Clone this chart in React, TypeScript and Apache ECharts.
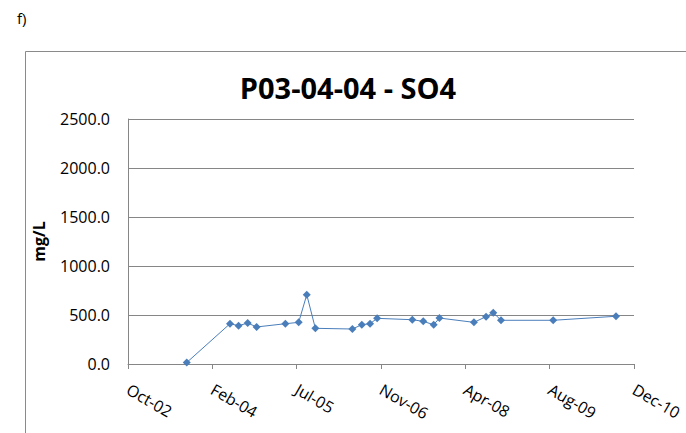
import React, { useEffect, useRef } from "react";
import * as echarts from "echarts";

const sampleDates = [
  "2003-09-20", "2004-06-03", "2004-07-24", "2004-09-16", "2004-11-08",
  "2005-04-28", "2005-07-16", "2005-09-02", "2005-10-23", "2006-05-31",
  "2006-07-26", "2006-09-13", "2006-10-25", "2007-05-22", "2007-07-26",
  "2007-09-26", "2007-10-30", "2008-05-22", "2008-08-02", "2008-09-14",
  "2008-10-30", "2009-09-05", "2010-09-13",
];
const so4Values = [
  15, 411, 391, 418, 378, 411, 425, 707, 364, 357, 401, 411, 466, 452, 435,
  401, 469, 425, 483, 524, 446, 446, 487,
];
const xTickLabels = ["Oct-02", "Feb-04", "Jul-05", "Nov-06", "Apr-08", "Aug-09", "Dec-10"];
const axisStartDate = "2002-10-06";
const tickStepDays = 501;
const yTicks = [0, 500, 1000, 1500, 2000, 2500];

const DAY = 86400000;
const toDays = (d: string) => Math.round((Date.parse(d) - Date.parse(axisStartDate)) / DAY);

const FONT = "'Open Sans', 'Noto Sans', sans-serif";

export default function App() {
  const ref = useRef<HTMLDivElement>(null);
  useEffect(() => {
    if (!ref.current) return;
    const chart = echarts.init(ref.current, null, { renderer: "svg" });
    const data = sampleDates.map((d, i) => [toDays(d), so4Values[i]]);
    const xMax = tickStepDays * (xTickLabels.length - 1);
    chart.setOption({
      animation: false,
      backgroundColor: "#ffffff",
      textStyle: { fontFamily: FONT },
      grid: {
        left: 128,
        right: 52,
        top: 119,
        bottom: 69,
        containLabel: false,
        outerBoundsMode: "none",
      },
      graphic: [
        {
          type: "rect",
          shape: { x: 25.5, y: 51.5, width: 720, height: 420 },
          style: { fill: "none", stroke: "#8a8a8a", lineWidth: 1 },
          silent: true,
        },
        {
          type: "text",
          x: 17,
          y: 18,
          style: {
            text: "f)",
            font: `15px ${FONT}`,
            fill: "#000",
            textVerticalAlign: "middle",
          },
        },
        {
          type: "text",
          x: 348,
          y: 87,
          style: {
            text: "P03-04-04 - SO4",
            font: `bold 29px ${FONT}`,
            fill: "#000",
            textAlign: "center",
            textVerticalAlign: "middle",
          },
        },
      ],
      xAxis: {
        type: "value",
        min: 0,
        max: xMax,
        interval: tickStepDays,
        splitLine: { show: false },
        axisLine: { show: true, onZero: false, lineStyle: { color: "#868686", width: 1 } },
        axisTick: { show: true, length: 5, lineStyle: { color: "#868686" } },
        axisLabel: {
          rotate: -30,
          margin: 24,
          color: "#000",
          fontSize: 16,
          fontFamily: FONT,
          formatter: (v: number) => xTickLabels[Math.round(v / tickStepDays)] ?? "",
        },
      },
      yAxis: {
        type: "value",
        min: yTicks[0],
        max: yTicks[yTicks.length - 1],
        interval: yTicks[1] - yTicks[0],
        name: "mg/L",
        nameLocation: "middle",
        nameRotate: 90,
        nameGap: 81,
        nameTextStyle: { fontWeight: "bold", fontSize: 16, color: "#000", fontFamily: FONT },
        axisLine: { show: true, lineStyle: { color: "#868686", width: 1 } },
        axisTick: { show: false },
        splitLine: { show: true, lineStyle: { color: "#868686", width: 1 } },
        axisLabel: {
          margin: 18,
          color: "#000",
          fontSize: 16,
          fontFamily: FONT,
          formatter: (v: number) => v.toFixed(1),
        },
      },
      series: [
        {
          type: "line",
          data,
          symbol: "diamond",
          symbolSize: 8,
          showSymbol: true,
          lineStyle: { color: "#4A7EBB", width: 1 },
          itemStyle: { color: "#4A7EBB" },
        },
      ],
    });
    return () => chart.dispose();
  }, []);
  return (
    <div
      ref={ref}
      style={{ position: "fixed", left: 0, top: 0, width: 686, height: 433 }}
    />
  );
}
